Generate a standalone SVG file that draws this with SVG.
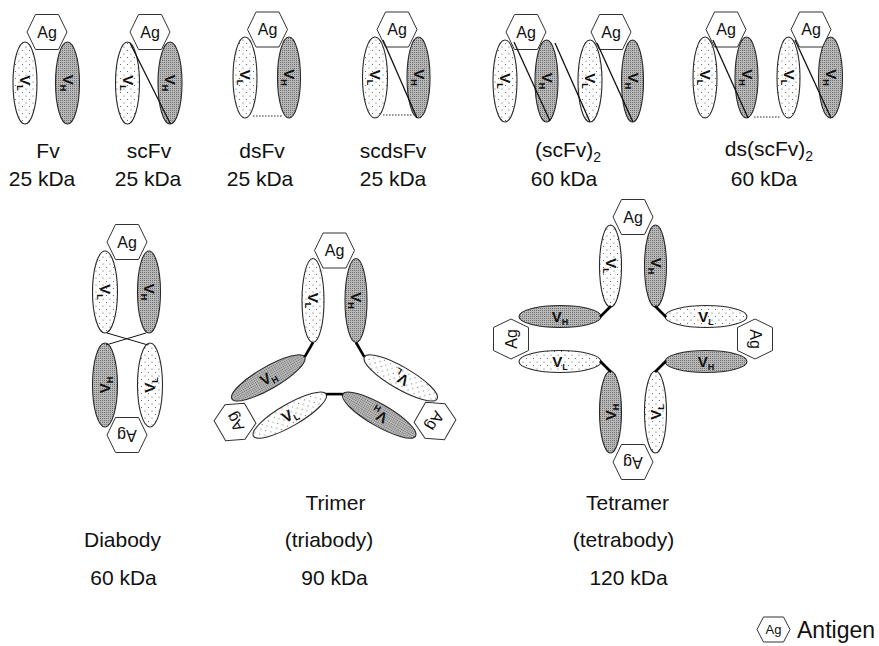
<svg xmlns="http://www.w3.org/2000/svg" xmlns:xlink="http://www.w3.org/1999/xlink" width="879" height="646" viewBox="0 0 879 646">
<style>
.vl{fill:url(#dots);stroke:#2a2a2a;stroke-width:1.1}
.vh{fill:url(#dense);stroke:#2a2a2a;stroke-width:1.1}
.hex{fill:#fff;stroke:#333;stroke-width:1}
.ag{font-family:"Liberation Sans",Arial,sans-serif;font-size:16px;text-anchor:middle;fill:#111}
.v{font-family:"Liberation Sans",Arial,sans-serif;font-size:15px;font-weight:bold;text-anchor:middle;fill:#111}
.sub{font-size:9px}
.lbl{font-family:"Liberation Sans",Arial,sans-serif;font-size:21px;text-anchor:middle;fill:#111}
.lsub{font-size:14px}
.link{stroke:#111;stroke-width:1.3;fill:none}
.thin{stroke:#111;stroke-width:1;fill:none}
.thick{stroke:#000;stroke-width:2.6;fill:none}
.ss{stroke:#777;stroke-width:1.6;stroke-dasharray:1.6 1.4;fill:none}
</style>
<defs>
<pattern id="dots" width="7" height="7" patternUnits="userSpaceOnUse"><rect width="7" height="7" fill="#fff"/><circle cx="1.5" cy="1.5" r="0.6" fill="#555"/><circle cx="5" cy="5" r="0.6" fill="#555"/></pattern>
<pattern id="dense" width="2" height="2" patternUnits="userSpaceOnUse"><rect width="2" height="2" fill="#b8b8b8"/><rect width="1" height="1" fill="#707070"/></pattern>
<polygon id="hex" points="-20,0 -11.5,-17.5 11.5,-17.5 20,0 11.5,17.5 -11.5,17.5"/>
<polygon id="hexs" points="-16.5,0 -10,-12.5 10,-12.5 16.5,0 10,12.5 -10,12.5"/>
</defs>

<!-- Fv -->
<g id="fv">
<ellipse class="vl" cx="25" cy="83" rx="12" ry="41"/>
<ellipse class="vh" cx="67.5" cy="83" rx="12" ry="41"/>
<use href="#hex" class="hex" transform="translate(47,32)"/>
<text class="ag" x="47" y="37.5">Ag</text>
<text class="v" transform="translate(25,83) rotate(90)" y="5">V<tspan class="sub" dy="3">L</tspan></text>
<text class="v" transform="translate(67.5,83) rotate(90)" y="5">V<tspan class="sub" dy="3">H</tspan></text>
<text class="lbl" x="48" y="158">Fv</text>
<text class="lbl" x="42" y="186">25 kDa</text>
</g>

<!-- scFv -->
<g id="scfv">
<ellipse class="vl" cx="127.5" cy="83" rx="12" ry="41"/>
<ellipse class="vh" cx="170" cy="83" rx="12" ry="41"/>
<use href="#hex" class="hex" transform="translate(150,32)"/>
<text class="ag" x="150" y="37.5">Ag</text>
<text class="v" transform="translate(127.5,83) rotate(90)" y="5">V<tspan class="sub" dy="3">L</tspan></text>
<text class="v" transform="translate(170,83) rotate(90)" y="5">V<tspan class="sub" dy="3">H</tspan></text>
<text class="lbl" x="149" y="158">scFv</text>
<text class="lbl" x="148" y="186">25 kDa</text>
</g>

<!-- dsFv -->
<g id="dsfv">
<ellipse class="vl" cx="245" cy="77.5" rx="12" ry="40.5"/>
<ellipse class="vh" cx="289" cy="77.5" rx="11.5" ry="40.5"/>
<use href="#hex" class="hex" transform="translate(267.5,29.5)"/>
<text class="ag" x="267.5" y="35">Ag</text>
<text class="v" transform="translate(245,77.5) rotate(90)" y="5">V<tspan class="sub" dy="3">L</tspan></text>
<text class="v" transform="translate(289,77.5) rotate(90)" y="5">V<tspan class="sub" dy="3">H</tspan></text>
<text class="lbl" x="262" y="158">dsFv</text>
<text class="lbl" x="260" y="186">25 kDa</text>
</g>

<!-- scdsFv -->
<g id="scdsfv">
<ellipse class="vl" cx="375" cy="77.5" rx="12.5" ry="40.5"/>
<ellipse class="vh" cx="418.5" cy="77.5" rx="11.5" ry="40.5"/>
<use href="#hex" class="hex" transform="translate(397,29.5)"/>
<text class="ag" x="397" y="35">Ag</text>
<text class="v" transform="translate(375,77.5) rotate(90)" y="5">V<tspan class="sub" dy="3">L</tspan></text>
<text class="v" transform="translate(418.5,77.5) rotate(90)" y="5">V<tspan class="sub" dy="3">H</tspan></text>
<text class="lbl" x="393" y="158">scdsFv</text>
<text class="lbl" x="393" y="186">25 kDa</text>
</g>

<!-- (scFv)2 -->
<g id="scfv2">
<ellipse class="vl" cx="505" cy="81" rx="12" ry="41"/>
<ellipse class="vh" cx="546.5" cy="81" rx="11.5" ry="41"/>
<ellipse class="vl" cx="590" cy="81" rx="12" ry="41"/>
<ellipse class="vh" cx="632.5" cy="81" rx="11" ry="41"/>
<use href="#hex" class="hex" transform="translate(526,32)"/>
<use href="#hex" class="hex" transform="translate(611,32)"/>
<text class="ag" x="526" y="37.5">Ag</text>
<text class="ag" x="611" y="37.5">Ag</text>
<text class="v" transform="translate(505,81) rotate(90)" y="5">V<tspan class="sub" dy="3">L</tspan></text>
<text class="v" transform="translate(546.5,81) rotate(90)" y="5">V<tspan class="sub" dy="3">H</tspan></text>
<text class="v" transform="translate(590,81) rotate(90)" y="5">V<tspan class="sub" dy="3">L</tspan></text>
<text class="v" transform="translate(632.5,81) rotate(90)" y="5">V<tspan class="sub" dy="3">H</tspan></text>
<text class="lbl" x="568" y="157">(scFv)<tspan class="lsub" dy="5">2</tspan></text>
<text class="lbl" x="564" y="186">60 kDa</text>
</g>

<!-- ds(scFv)2 -->
<g id="dsscfv2">
<ellipse class="vl" cx="705" cy="77.5" rx="12" ry="40.5"/>
<ellipse class="vh" cx="746.5" cy="77.5" rx="11.5" ry="40.5"/>
<ellipse class="vl" cx="788.5" cy="77.5" rx="11.5" ry="40.5"/>
<ellipse class="vh" cx="830.5" cy="77.5" rx="12" ry="40.5"/>
<use href="#hex" class="hex" transform="translate(726,29.5)"/>
<use href="#hex" class="hex" transform="translate(811,29.5)"/>
<text class="ag" x="726" y="35">Ag</text>
<text class="ag" x="811" y="35">Ag</text>
<text class="v" transform="translate(705,77.5) rotate(90)" y="5">V<tspan class="sub" dy="3">L</tspan></text>
<text class="v" transform="translate(746.5,77.5) rotate(90)" y="5">V<tspan class="sub" dy="3">H</tspan></text>
<text class="v" transform="translate(788.5,77.5) rotate(90)" y="5">V<tspan class="sub" dy="3">L</tspan></text>
<text class="v" transform="translate(830.5,77.5) rotate(90)" y="5">V<tspan class="sub" dy="3">H</tspan></text>
<text class="lbl" x="769" y="156">ds(scFv)<tspan class="lsub" dy="5">2</tspan></text>
<text class="lbl" x="764" y="186">60 kDa</text>
</g>

<!-- Diabody -->
<g id="diabody">
<ellipse class="vl" cx="105" cy="292" rx="12.5" ry="41"/>
<ellipse class="vh" cx="149" cy="292" rx="11.5" ry="41"/>
<ellipse class="vh" cx="105" cy="385" rx="12.5" ry="42"/>
<ellipse class="vl" cx="150" cy="385" rx="12.5" ry="42"/>
<use href="#hex" class="hex" transform="translate(127,242)"/>
<use href="#hex" class="hex" transform="translate(127,435) rotate(180)"/>
<text class="ag" x="127" y="247.5">Ag</text>
<text class="ag" transform="translate(127,435) rotate(180)" y="5.5">Ag</text>
<text class="v" transform="translate(105,292) rotate(90)" y="5">V<tspan class="sub" dy="3">L</tspan></text>
<text class="v" transform="translate(149,292) rotate(90)" y="5">V<tspan class="sub" dy="3">H</tspan></text>
<text class="v" transform="translate(105,385) rotate(-90)" y="5">V<tspan class="sub" dy="3">H</tspan></text>
<text class="v" transform="translate(150,385) rotate(-90)" y="5">V<tspan class="sub" dy="3">L</tspan></text>
<text class="lbl" x="122.5" y="547">Diabody</text>
<text class="lbl" x="123.5" y="585">60 kDa</text>
</g>

<!-- Trimer -->
<g id="trimer">
<ellipse class="vl" cx="313" cy="300.5" rx="11" ry="42"/>
<ellipse class="vh" cx="356" cy="300.5" rx="11" ry="42"/>
<ellipse class="vl" cx="400.7" cy="377.9" rx="11" ry="42" transform="rotate(120 400.7 377.9)"/>
<ellipse class="vh" cx="379.2" cy="415.1" rx="11" ry="42" transform="rotate(120 379.2 415.1)"/>
<ellipse class="vl" cx="289.8" cy="415.1" rx="11" ry="42" transform="rotate(240 289.8 415.1)"/>
<ellipse class="vh" cx="268.3" cy="377.9" rx="11" ry="42" transform="rotate(240 268.3 377.9)"/>
<use href="#hex" class="hex" transform="translate(334.5,250.5)"/>
<use href="#hex" class="hex" transform="translate(435,421) rotate(120)"/>
<use href="#hex" class="hex" transform="translate(235,422) rotate(240)"/>
<text class="ag" transform="translate(334.5,250.5)" y="5.5">Ag</text>
<text class="ag" transform="translate(435,421) rotate(120)" y="5.5">Ag</text>
<text class="ag" transform="translate(235,422) rotate(240)" y="5.5">Ag</text>
<text class="v" transform="translate(313,300.5) rotate(90)" y="5">V<tspan class="sub" dy="3">L</tspan></text>
<text class="v" transform="translate(356,300.5) rotate(90)" y="5">V<tspan class="sub" dy="3">H</tspan></text>
<text class="v" transform="translate(400.7,377.9) rotate(210)" y="5">V<tspan class="sub" dy="3">L</tspan></text>
<text class="v" transform="translate(379.2,415.1) rotate(210)" y="5">V<tspan class="sub" dy="3">H</tspan></text>
<text class="v" transform="translate(289.8,415.1) rotate(330)" y="5">V<tspan class="sub" dy="3">L</tspan></text>
<text class="v" transform="translate(268.3,377.9) rotate(330)" y="5">V<tspan class="sub" dy="3">H</tspan></text>
<text class="lbl" x="335.5" y="510">Trimer</text>
<text class="lbl" x="329" y="547">(triabody)</text>
<text class="lbl" x="334.5" y="585">90 kDa</text>
</g>

<!-- Tetramer -->
<g id="tetramer">
<ellipse class="vl" cx="610.5" cy="266" rx="11" ry="41"/>
<ellipse class="vh" cx="655.5" cy="266" rx="11" ry="41"/>
<ellipse class="vl" cx="706" cy="316.5" rx="41" ry="11"/>
<ellipse class="vh" cx="706" cy="361.5" rx="41" ry="11"/>
<ellipse class="vl" cx="655.5" cy="412" rx="11" ry="41"/>
<ellipse class="vh" cx="610.5" cy="412" rx="11" ry="41"/>
<ellipse class="vh" cx="560" cy="316.5" rx="41" ry="11"/>
<ellipse class="vl" cx="560" cy="361.5" rx="41" ry="11"/>
<use href="#hex" class="hex" transform="translate(633,217)"/>
<use href="#hex" class="hex" transform="translate(755,339) rotate(90)"/>
<use href="#hex" class="hex" transform="translate(633,462) rotate(180)"/>
<use href="#hex" class="hex" transform="translate(511,339) rotate(270)"/>
<text class="ag" transform="translate(633,217)" y="5.5">Ag</text>
<text class="ag" transform="translate(755,339) rotate(90)" y="5.5">Ag</text>
<text class="ag" transform="translate(633,462) rotate(180)" y="5.5">Ag</text>
<text class="ag" transform="translate(511,339) rotate(270)" y="5.5">Ag</text>
<text class="v" transform="translate(610.5,266) rotate(90)" y="5">V<tspan class="sub" dy="3">L</tspan></text>
<text class="v" transform="translate(655.5,266) rotate(90)" y="5">V<tspan class="sub" dy="3">H</tspan></text>
<text class="v" transform="translate(706,316.5)" y="5">V<tspan class="sub" dy="3">L</tspan></text>
<text class="v" transform="translate(706,361.5)" y="5">V<tspan class="sub" dy="3">H</tspan></text>
<text class="v" transform="translate(655.5,412) rotate(-90)" y="5">V<tspan class="sub" dy="3">L</tspan></text>
<text class="v" transform="translate(610.5,412) rotate(-90)" y="5">V<tspan class="sub" dy="3">H</tspan></text>
<text class="v" transform="translate(560,316.5)" y="5">V<tspan class="sub" dy="3">H</tspan></text>
<text class="v" transform="translate(560,361.5)" y="5">V<tspan class="sub" dy="3">L</tspan></text>
<text class="lbl" x="627.5" y="510">Tetramer</text>
<text class="lbl" x="623.5" y="547">(tetrabody)</text>
<text class="lbl" x="628.5" y="585">120 kDa</text>
</g>

<!-- Legend -->
<g id="legend">
<use href="#hexs" class="hex" transform="translate(773.5,629.5)"/>
<text class="ag" style="font-size:13px" x="773.5" y="634">Ag</text>
<text class="lbl" style="text-anchor:start;font-size:23px" x="797" y="638">Antigen</text>
</g>

<!-- Connectors -->
<g id="connectors">
<line class="link" x1="130" y1="43" x2="170.5" y2="124"/>
<line class="ss" x1="253" y1="116" x2="283" y2="116"/>
<line class="link" x1="383" y1="40" x2="417" y2="118"/>
<line class="ss" x1="383" y1="115" x2="412" y2="115"/>
<line class="link" x1="514" y1="42" x2="550" y2="121"/>
<line class="link" x1="555" y1="43" x2="590" y2="122"/>
<line class="link" x1="597" y1="43" x2="633" y2="122"/>
<line class="link" x1="713" y1="40" x2="748" y2="118"/>
<line class="link" x1="795" y1="40" x2="831" y2="118"/>
<line class="ss" x1="754" y1="117" x2="781" y2="117"/>
<line class="thin" x1="107" y1="333" x2="148" y2="345"/>
<line class="thin" x1="146" y1="333" x2="106" y2="345"/>
<line class="thick" x1="313" y1="342.5" x2="304.7" y2="356.9"/>
<line class="thick" x1="356" y1="342.5" x2="364.3" y2="356.9"/>
<line class="thick" x1="326.2" y1="394.1" x2="342.8" y2="394.1"/>
<line class="thick" x1="611" y1="306" x2="600" y2="317"/>
<line class="thick" x1="655" y1="306" x2="666" y2="317"/>
<line class="thick" x1="600" y1="361" x2="611" y2="372"/>
<line class="thick" x1="666" y1="361" x2="655" y2="372"/>
</g>
</svg>
